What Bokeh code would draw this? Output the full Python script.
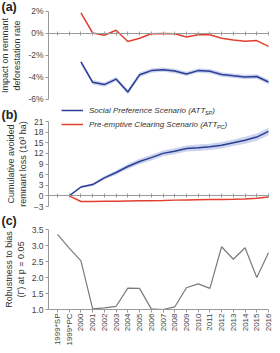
import math
from bokeh.plotting import figure
from bokeh.models import (ColumnDataSource, FixedTicker, LinearAxis, Range1d,
                          Label, Legend, LegendItem)
from bokeh.embed import file_html
from bokeh.resources import INLINE

nan = float("nan")

# ---------------- data ----------------
categories = ["1999*SP", "1999*PC", "2000", "2001", "2002", "2003", "2004",
              "2005", "2006", "2007", "2008", "2009", "2010", "2011", "2012",
              "2013", "2014", "2015", "2016"]

# (a) impact on remnant deforestation rate (%)
a_sp = [nan, nan, -2.63, -4.48, -4.69, -4.19, -5.36, -3.80, -3.42, -3.33,
        -3.45, -3.72, -3.42, -3.48, -3.77, -3.89, -4.00, -3.95, -4.45]
a_sp_err = [nan, nan, 0.18, 0.2, 0.2, 0.2, 0.22, 0.22, 0.2, 0.2,
            0.2, 0.2, 0.2, 0.2, 0.2, 0.2, 0.2, 0.2, 0.22]
a_pc = [nan, nan, 1.83, 0.0, -0.2, 0.25, -0.78, -0.48, -0.07, -0.04,
        -0.07, -0.37, -0.16, -0.16, -0.48, -0.63, -0.75, -0.69, -1.22]

# (b) cumulative avoided remnant loss (10^3 ha)
b_sp = [nan, 0.0, 2.5, 3.2, 5.1, 6.6, 8.3, 9.7, 10.8, 12.0, 12.6, 13.4,
        13.6, 13.85, 14.3, 15.0, 15.7, 16.6, 18.2]
b_sp_err = [nan, 0.0, 0.3, 0.4, 0.5, 0.6, 0.7, 0.75, 0.8, 0.8, 0.85, 0.85,
            0.9, 0.9, 0.9, 0.95, 1.0, 1.0, 1.05]
b_pc = [nan, 0.0, -1.6, -1.6, -1.55, -1.5, -1.45, -1.4, -1.35, -1.3, -1.2,
        -1.15, -1.1, -1.05, -1.0, -0.95, -0.85, -0.7, -0.35]

# (c) robustness to bias (Gamma) at p = 0.05
c_gamma = [3.35, 2.92, 2.52, 1.02, 1.05, 1.10, 1.67, 1.66, 1.02, 1.00,
           1.08, 1.68, 1.80, 1.66, 2.96, 2.57, 2.93, 2.00, 2.77]

a_ticks = [-6, -4, -2, 0, 2]
a_tick_labels = ["-6%", "-4%", "-2%", "0%", "2%"]
b_ticks = [-3, 0, 3, 6, 9, 12, 15, 18, 21]
c_ticks = [1.0, 1.5, 2.0, 2.5, 3.0, 3.5]
c_tick_labels = ["1.0", "1.5", "2.0", "2.5", "3.0", "3.5"]

legend_sp = "Social Preference Scenario (ATT"
legend_pc = "Pre-emptive Clearing Scenario (ATT"

# ---------------- layout / style ----------------
FONT = "Liberation Sans"
BLUE = "#2b3d96"
RED = "#e2402f"
BAND = "#cbd4ec"
GREY_LINE = "#7a7a7a"
AXIS = "#9a9a9a"
TXT = "#444444"

W, H = 272, 345           # figure size; page origin of figure is (8, 8)
TOP, BOT = 8, 8 + H       # page y of canvas top / bottom
LEFTX, RIGHTX = 8, 8 + W  # page x of canvas left / right
PX_FIRST, PX_LAST = 65, 276   # page x of first / last category
AXIS_PX = 56                  # page x of the y-axis lines

xs = list(range(len(categories)))
ux = (PX_LAST - PX_FIRST) / (len(xs) - 1)
x_start = -(PX_FIRST - LEFTX) / ux
x_end = xs[-1] + (RIGHTX - PX_LAST) / ux
x_axis_loc = -(PX_FIRST - AXIS_PX) / ux


def yrange(v_top, page_top, v_bot, page_bot):
    u = (page_bot - page_top) / (v_top - v_bot)
    return Range1d(v_bot - (BOT - page_bot) / u, v_top + (page_top - TOP) / u)


def sx(page_x):
    return page_x - LEFTX


def sy(page_y):
    return BOT - page_y


def valid(*cols):
    return [i for i in xs if not any(math.isnan(c[i]) for c in cols)]


p = figure(width=W, height=H, x_range=Range1d(x_start, x_end),
           y_range=Range1d(0, 1), output_backend="svg",
           toolbar_location=None, x_axis_location=None, y_axis_location=None,
           min_border=0)
p.grid.visible = False
p.outline_line_color = None
p.background_fill_color = "white"
p.border_fill_color = "white"

p.extra_y_ranges = {
    "a": yrange(2, 18.5, -6, 106.5),
    "b": yrange(21, 129, -3, 214),
    "c": yrange(3.5, 237, 1.0, 317),
}


def y_axis(name, ticks, bounds, label, overrides=None):
    ax = LinearAxis(y_range_name=name, fixed_location=x_axis_loc,
                    ticker=FixedTicker(ticks=ticks), bounds=bounds,
                    axis_label=label, axis_label_text_font=FONT,
                    axis_label_text_font_size="9px",
                    axis_label_text_font_style="normal",
                    axis_label_text_color="#333333", axis_label_standoff=3,
                    major_label_text_font=FONT,
                    major_label_text_font_size="8.5px",
                    major_label_text_color=TXT, major_label_standoff=2,
                    axis_line_color=AXIS, major_tick_line_color=AXIS,
                    major_tick_out=3, major_tick_in=0,
                    minor_tick_line_color=None)
    if overrides:
        ax.major_label_overrides = overrides
    p.add_layout(ax, "left")


def zero_axis(name):
    ax = LinearAxis(y_range_name=name, fixed_location=0,
                    ticker=FixedTicker(ticks=xs), bounds=(x_axis_loc, xs[-1]),
                    axis_line_color=AXIS, major_tick_line_color=AXIS,
                    major_tick_in=2, major_tick_out=2,
                    minor_tick_line_color=None, major_label_text_color=None)
    p.add_layout(ax, "below")


def panel_label(text, page_y):
    p.add_layout(Label(x=sx(9), y=sy(page_y), x_units="screen",
                       y_units="screen", text=text, text_font=FONT,
                       text_font_size="12.5px", text_font_style="bold",
                       text_color="#222222", text_baseline="middle"))


# ---------------- (a) ----------------
y_axis("a", a_ticks, (-6, 2), "Impact on remnant\ndeforestation rate",
       dict(zip(a_ticks, a_tick_labels)))
zero_axis("a")
ia = valid(a_sp, a_sp_err)
src_a = ColumnDataSource(dict(
    x=ia, y=[a_sp[i] for i in ia],
    lo=[a_sp[i] - a_sp_err[i] for i in ia],
    hi=[a_sp[i] + a_sp_err[i] for i in ia]))
p.varea(x="x", y1="lo", y2="hi", source=src_a, fill_color=BAND,
        y_range_name="a")
p.line(x="x", y="y", source=src_a, line_color=BLUE, line_width=1.5,
       y_range_name="a")
ipc = valid(a_pc)
p.line(x=ipc, y=[a_pc[i] for i in ipc], line_color=RED, line_width=1.5,
       y_range_name="a")
panel_label("(a)", 14.5)

# ---------------- (b) ----------------
y_axis("b", b_ticks, (-3, 21), "Cumulative avoided\nremnant loss (10\u00b3 ha)")
zero_axis("b")
ib = valid(b_sp, b_sp_err)
src_b = ColumnDataSource(dict(
    x=ib, y=[b_sp[i] for i in ib],
    lo=[b_sp[i] - b_sp_err[i] for i in ib],
    hi=[b_sp[i] + b_sp_err[i] for i in ib]))
p.varea(x="x", y1="lo", y2="hi", source=src_b, fill_color=BAND,
        y_range_name="b")
r_sp = p.line(x="x", y="y", source=src_b, line_color=BLUE, line_width=1.5,
              y_range_name="b")
ibp = valid(b_pc)
r_pc = p.line(x=ibp, y=[b_pc[i] for i in ibp], line_color=RED,
              line_width=1.5, y_range_name="b")
panel_label("(b)", 122)

leg = Legend(items=[LegendItem(label=legend_sp, renderers=[r_sp]),
                    LegendItem(label=legend_pc, renderers=[r_pc])],
             location=(sx(69), sy(138)), orientation="vertical",
             glyph_width=22, glyph_height=12, label_height=12,
             label_standoff=6, spacing=2, padding=0, margin=0,
             border_line_color=None, background_fill_alpha=0,
             label_text_font=FONT, label_text_font_size="8px",
             label_text_font_style="italic", label_text_color="#333333")
p.add_layout(leg, "center")
sub_kw = dict(x_units="screen", y_units="screen", text_font=FONT,
              text_font_style="italic", text_color="#333333",
              text_baseline="middle")
p.add_layout(Label(x=sx(212.4), y=sy(120.5), text="SP",
                   text_font_size="5.5px", **sub_kw))
p.add_layout(Label(x=sx(219.7), y=sy(118), text=")",
                   text_font_size="8px", **sub_kw))
p.add_layout(Label(x=sx(224.4), y=sy(134.5), text="PC",
                   text_font_size="5.5px", **sub_kw))
p.add_layout(Label(x=sx(232.0), y=sy(132), text=")",
                   text_font_size="8px", **sub_kw))

# ---------------- (c) ----------------
y_axis("c", c_ticks, (1.0, 3.5), "Robustness to bias\n(\u0393) at p = 0.05",
       dict(zip(c_ticks, c_tick_labels)))
xa = LinearAxis(y_range_name="c", fixed_location=1.0,
                ticker=FixedTicker(ticks=xs), bounds=(x_axis_loc, xs[-1]),
                major_label_overrides={i: c for i, c in enumerate(categories)},
                major_label_orientation=math.pi / 2,
                major_label_text_font=FONT, major_label_text_font_size="8px",
                major_label_text_color=TXT, major_label_standoff=1,
                axis_line_color=AXIS, major_tick_line_color=AXIS,
                major_tick_out=3, major_tick_in=0,
                minor_tick_line_color=None)
p.add_layout(xa, "below")
p.line(x=xs, y=c_gamma, line_color=GREY_LINE, line_width=1.2,
       y_range_name="c")
panel_label("(c)", 228)

open("out.html", "w").write(file_html(p, INLINE))
